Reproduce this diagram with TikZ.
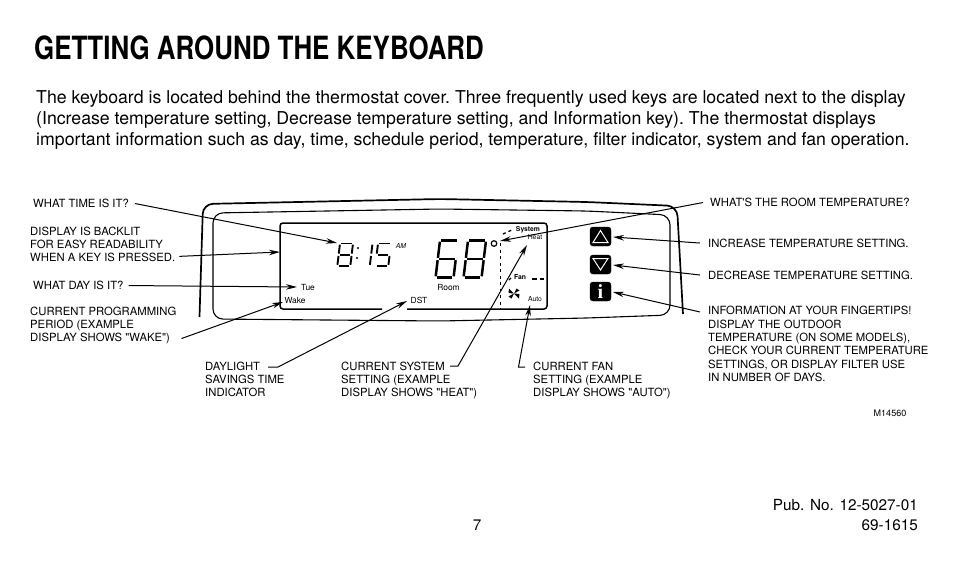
\documentclass[tikz,border=0pt]{standalone}
\usepackage{fontspec}
\setmainfont{TeX Gyre Heros}
\newfontfamily\headfont[FakeStretch=0.81]{TeX Gyre Heros Bold}
\newfontfamily\keyfont{Liberation Serif Bold}
\newfontfamily\calloutfont{TeX Gyre Heros}
\usepackage{tikz}
\usetikzlibrary{arrows, arrows.meta, positioning}
\tikzstyle{heading} = [anchor=west, inner sep=0pt, font=\headfont\fontsize{32}{36}\selectfont]
\tikzstyle{bodytext} = [anchor=north west, inner sep=0pt, align=left, font=\frenchspacing\fontsize{17.7}{21}\selectfont]
\tikzstyle{callout} = [anchor=north west, inner sep=0pt, align=left, font=\calloutfont\fontsize{11.3}{13.4}\selectfont]
\tikzstyle{lcdtext} = [inner sep=0pt, font=\fontsize{8.4}{9}\selectfont]
\tikzstyle{tinytext} = [inner sep=0pt, font=\fontsize{6.8}{8}\selectfont]
\tikzstyle{footer} = [anchor=east, inner sep=0pt, font=\fontsize{15.3}{18}\selectfont]
\tikzstyle{arrow} = [line width=1pt,-{Stealth[length=11pt,width=5.5pt]}]
\tikzstyle{bezel} = [line width=1.7pt, rounded corners=10pt]
\tikzstyle{keybtn} = [fill=black, rounded corners=3pt]
\tikzstyle{keymark} = [draw=white, line width=1pt]
\tikzstyle{lcdsmall} = [line width=1.9pt]
\tikzstyle{lcdbig} = [line width=2.5pt]
% one lcd digit: x, y, width, height, style, segments
\newcommand{\lcddigit}[6]{
  \begin{scope}[shift={(#1,#2)}, xslant=0.12]
    \coordinate (tl) at (0,0);
    \coordinate (tr) at (#3,0);
    \coordinate (ml) at (0,#4/2);
    \coordinate (mr) at (#3,#4/2);
    \coordinate (bl) at (0,#4);
    \coordinate (br) at (#3,#4);
    \foreach \p/\q in #6
      \draw [#5, shorten >=1.2pt, shorten <=1.2pt] (\p) -- (\q);
  \end{scope}
}
\newcommand{\segeight}{tl/tr,tr/mr,mr/br,bl/br,ml/bl,tl/ml,ml/mr}
\newcommand{\segsix}{tl/tr,mr/br,bl/br,ml/bl,tl/ml,ml/mr}
\newcommand{\segfive}{tl/tr,mr/br,bl/br,tl/ml,ml/mr}
\newcommand{\segone}{tr/mr,mr/br}

\begin{document}
\begin{tikzpicture}[x=1pt, y=-1pt]
    \useasboundingbox (0,0) rectangle (954,566);

    % page text
    \node (title) [heading] at (34,48) {GETTING AROUND THE KEYBOARD};
    \node (intro) [bodytext] at (36,90.5) {The keyboard is located behind the thermostat cover. Three frequently used keys are located next to the display\\(Increase temperature setting, Decrease temperature setting, and Information key). The thermostat displays\\important information such as day, time, schedule period, temperature, filter indicator, system and fan operation.};

    % thermostat housing
    \draw [bezel] (199.5,317) -- (203,204) -- (440,199) -- (587,202) -- (677,206) -- (683,314);
    \draw [line width=1.1pt, rounded corners=10pt] (213,319) -- (213,213) -- (440,209) -- (587,211) -- (670,215) -- (670,315) -- (587,318) -- (440,321) -- cycle;

    % display
    \draw [line width=1.5pt, rounded corners=3pt] (382,309) -- (280,309) -- (280,223) -- (547,223) -- (547,309) -- (407,309);
    \lcddigit{340}{243.5}{13}{22.5}{lcdsmall}{\segeight}
    \fill (358,248) circle (1.1) (357,258) circle (1.1);
    \lcddigit{372.5}{243.5}{0}{22.5}{lcdsmall}{\segone}
    \lcddigit{378}{243.5}{13}{22.5}{lcdsmall}{\segfive}
    \lcddigit{440}{240.5}{18}{37}{lcdbig}{\segsix}
    \lcddigit{468}{240.5}{18}{37}{lcdbig}{\segeight}
    \draw [line width=1.2pt] (494,243.5) circle (2.8);
    \draw [line width=1.3pt, dash pattern=on 3pt off 3.5pt] (500.5,243) -- (500.5,309);
    \draw [line width=1.3pt, dash pattern=on 3pt off 3pt] (503,234) -- (513,229.5);
    \draw [line width=1.3pt, dash pattern=on 5pt off 3pt] (532,279) -- (544,279);
    \draw [line width=1.3pt] (509,280) -- (511,278);
    % fan blades
    \fill (514,293.5) -- (508.5,293) -- (509,288.5) -- cycle;
    \fill (514,293.5) -- (519.5,290.5) -- (516.5,288.5) -- cycle;
    \fill (514,293.5) -- (508.5,296.5) -- (511.5,298.5) -- cycle;
    \fill (514,293.5) -- (519.5,294) -- (519,298.5) -- cycle;

    % display texts
    \node (am) [tinytext] at (401,246) {\itshape AM};
    \node (tue) [lcdtext] at (308,287) {Tue};
    \node (wake) [lcdtext] at (295,300) {Wake};
    \node (dst) [lcdtext] at (419,300) {DST};
    \node (room) [lcdtext] at (448.5,287) {Room};
    \node (system) [tinytext] at (528,229.5) {\bfseries System};
    \node (heat) [tinytext] at (535,237) {Heat};
    \node (fan) [tinytext] at (520,277) {\bfseries Fan};
    \node (auto) [tinytext] at (535,299.5) {Auto};

    % keys
    \draw [keybtn] (590,227) rectangle (611,246);
    \draw [keymark] (600.5,230.5) -- (608,242.5) -- (593,242.5) -- cycle;
    \draw [keybtn] (590,255) rectangle (611,274);
    \draw [keybtn] (590,282) rectangle (611,301);
    \draw [keymark] (600.5,270) -- (608,258.5) -- (593,258.5) -- cycle;
    \node (info) [inner sep=0pt, text=white, font=\keyfont\fontsize{20}{20}\selectfont] at (600.5,291.5) {i};

    % arrow ends
    \coordinate (time_tip) at (337,243);
    \coordinate (lit_tip) at (280,252);
    \coordinate (day_tip) at (297,287);
    \coordinate (wake_tip) at (283,302);
    \coordinate (dst_tip) at (407,301);
    \coordinate (sys_tip) at (527,245);
    \coordinate (auto_tip) at (530,305);
    \coordinate (temp_tip) at (500,241);
    \coordinate (up_tip) at (613,237);
    \coordinate (down_tip) at (613,265);
    \coordinate (info_tip) at (613,292);

    % callouts, left
    \node (time_lbl) [callout] at (33,199) {WHAT TIME IS IT?};
    \node (lit_lbl) [callout] at (30,226.5) {DISPLAY IS BACKLIT\\FOR EASY READABILITY\\WHEN A KEY IS PRESSED.};
    \node (day_lbl) [callout] at (33,281) {WHAT DAY IS IT?};
    \node (wake_lbl) [callout] at (30,306.5) {CURRENT PROGRAMMING\\PERIOD (EXAMPLE\\DISPLAY SHOWS "WAKE")};
    % callouts, bottom
    \node (dst_lbl) [callout] at (205,361.5) {DAYLIGHT\\SAVINGS TIME\\INDICATOR};
    \node (sys_lbl) [callout] at (341,361.5) {CURRENT SYSTEM\\SETTING (EXAMPLE\\DISPLAY SHOWS "HEAT")};
    \node (fan_lbl) [callout] at (533,361.5) {CURRENT FAN\\SETTING (EXAMPLE\\DISPLAY SHOWS "AUTO")};
    % callouts, right
    \node (temp_lbl) [callout] at (710,198) {WHAT'S THE ROOM TEMPERATURE?};
    \node (up_lbl) [callout] at (708,238.5) {INCREASE TEMPERATURE SETTING.};
    \node (down_lbl) [callout] at (708,270.5) {DECREASE TEMPERATURE SETTING.};
    \node (info_lbl) [callout] at (708,306) {INFORMATION AT YOUR FINGERTIPS!\\DISPLAY THE OUTDOOR\\TEMPERATURE (ON SOME MODELS),\\CHECK YOUR CURRENT TEMPERATURE\\SETTINGS, OR DISPLAY FILTER USE\\IN NUMBER OF DAYS.};

    \draw [arrow] (time_lbl.east) ++(6,0) -- (time_tip);
    \draw [arrow] (lit_lbl.south east) ++(4,-6) -- (lit_tip);
    \draw [arrow] (day_lbl.east) ++(5,0) -- (day_tip);
    \draw [arrow] (wake_lbl.south east) ++(5,-6) -- (wake_tip);
    \draw [arrow] (dst_lbl.north west) ++(63,5.5) -- ++(10,0) -- (dst_tip);
    \draw [arrow] (sys_lbl.north west) ++(109,4.5) -- ++(8,0) -- (sys_tip);
    \draw [arrow] (fan_lbl.north west) ++(-8,5.5) -- ++(-6.5,0) -- (auto_tip);
    \draw [arrow] (temp_lbl.west) ++(-7,0) -- (temp_tip);
    \draw [arrow] (up_lbl.west) ++(-8,0) -- (up_tip);
    \draw [arrow] (down_lbl.west) ++(-8,0) -- (down_tip);
    \draw [arrow] (info_lbl.north west) ++(-8,6) -- (info_tip);

    % footer
    \node (mark) [inner sep=0pt, font=\fontsize{9}{10}\selectfont] at (890,413) {M14560};
    \node (pub) [footer] at (918,505) {Pub. No. 12-5027-01};
    \node (form) [footer] at (918,525) {69-1615};
    \node (page) [inner sep=0pt, font=\fontsize{15.3}{18}\selectfont] at (477,525.5) {7};
\end{tikzpicture}
\end{document}
